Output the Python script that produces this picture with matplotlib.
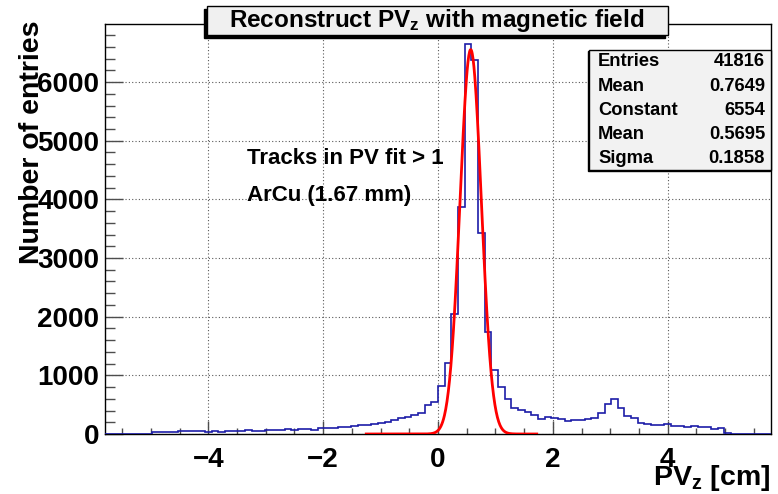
import numpy as np
import matplotlib
matplotlib.use("Agg")
import matplotlib.pyplot as plt
from matplotlib.patches import Rectangle
from matplotlib.ticker import MultipleLocator

# histogram: 100 bins over [-5.8, 5.8], entries
x_lo, x_hi, n_bins = -5.8, 5.8, 100
counts = [0, 0, 0, 0, 0, 0, 0,
          35, 35, 35, 35, 51, 51, 51, 51, 28, 51, 28, 51, 51,
          51, 68, 51, 51, 71, 71, 71, 85, 75, 85, 85, 68, 102, 108,
          102, 114, 125, 142, 148, 159, 171, 193, 210, 233, 267, 290,
          324, 364, 495, 552, 819, 1206, 2048, 3863, 6652, 6384, 3425,
          1747, 1092, 800, 600, 450, 405, 370, 320, 256, 285, 265, 262,
          230, 245, 245, 250, 267, 353, 506, 592, 438, 307, 267, 193,
          171, 154, 154, 171, 137, 137, 120, 137, 120, 120, 85, 102, 17,
          0, 0, 0, 0, 0, 0]

# gaussian fit parameters (stats box) and drawn fit range
g_const, g_mean, g_sigma = 6554, 0.5695, 0.1858
fit_lo, fit_hi = -1.25, 1.72

stat_names = ["Entries", "Mean", "Constant", "Mean", "Sigma"]
stat_vals = ["41816", "0.7649", "6554", "0.5695", "0.1858"]

W, H = 778, 494
plt.rcParams["font.family"] = ["Liberation Sans", "DejaVu Sans"]
plt.rcParams["font.weight"] = "bold"
plt.rcParams["mathtext.fontset"] = "custom"
plt.rcParams["mathtext.rm"] = "Liberation Sans:bold"
plt.rcParams["mathtext.bf"] = "Liberation Sans:bold"
plt.rcParams["mathtext.it"] = "Liberation Sans:bold"


def px(x, y):
    return x / W, 1 - y / H


fig = plt.figure(figsize=(W / 100, H / 100), dpi=100)
ax = fig.add_axes([105 / W, 1 - 434 / H, 666 / W, 410 / H])

edges = np.linspace(x_lo, x_hi, n_bins + 1)
ax.stairs(counts, edges, color="#1c1ca8", lw=1.2, zorder=3)
xf = np.linspace(fit_lo, fit_hi, 400)
ax.plot(xf, g_const * np.exp(-0.5 * ((xf - g_mean) / g_sigma) ** 2),
        color="red", lw=2, zorder=4)

ax.set_xlim(x_lo, x_hi)
ax.set_ylim(0, 6990)
ax.xaxis.set_major_locator(MultipleLocator(2))
ax.xaxis.set_minor_locator(MultipleLocator(0.5))
ax.yaxis.set_major_locator(MultipleLocator(1000))
ax.yaxis.set_minor_locator(MultipleLocator(200))
ax.grid(True, which="major", color="0.35", ls=(0, (1, 2)), lw=0.8)
ax.tick_params(axis="x", which="major", direction="in", length=9.5, width=1,
               color="0.3", pad=9, labelsize=20)
ax.tick_params(axis="x", which="minor", direction="in", length=4.5, width=1,
               color="0.3")
ax.tick_params(axis="y", which="major", direction="in", length=13, width=1,
               color="0.3", pad=4, labelsize=20)
ax.tick_params(axis="y", which="minor", direction="in", length=7, width=1,
               color="0.3")
for s in ax.spines.values():
    s.set_linewidth(1)

# ROOT-style title box with shadow
fig.patches.append(Rectangle(px(204, 38), 461 / W, 29 / H, transform=fig.transFigure,
                             facecolor="black", edgecolor="black", zorder=5))
fig.patches.append(Rectangle(px(207, 35), 461 / W, 29 / H, transform=fig.transFigure,
                             facecolor="#f0f0f0", edgecolor="black", lw=1, zorder=6))
fig.text(*px(437, 21), r"Reconstruct PV$_{\mathbf{z}}$ with magnetic field",
         ha="center", va="center", fontsize=17.5, fontweight="bold", zorder=7)

# stats box
fig.patches.append(Rectangle(px(588, 171), 182 / W, 120 / H, transform=fig.transFigure,
                             facecolor="black", edgecolor="black", zorder=5))
fig.patches.append(Rectangle(px(589, 170), 182 / W, 120 / H, transform=fig.transFigure,
                             facecolor="#f2f2f2", edgecolor="black", lw=1, zorder=6))
for i, (n, v) in enumerate(zip(stat_names, stat_vals)):
    y = 62 + i * 24.2
    fig.text(*px(598, y), n, ha="left", va="center", fontsize=13.2, zorder=7)
    fig.text(*px(765, y), v, ha="right", va="center", fontsize=13.2, zorder=7)

fig.text(*px(247, 159), "Tracks in PV fit > 1", ha="left", va="center", fontsize=16)
fig.text(*px(247, 196), "ArCu (1.67 mm)", ha="left", va="center", fontsize=16)

fig.text(*px(32, 20), "Number of entries", rotation=90, ha="center", va="top",
         fontsize=20.5)
fig.text(*px(770, 478), r"PV$_{\mathbf{z}}$ [cm]", ha="right", va="center",
         fontsize=20.5)

fig.savefig("out.png", dpi=100)
